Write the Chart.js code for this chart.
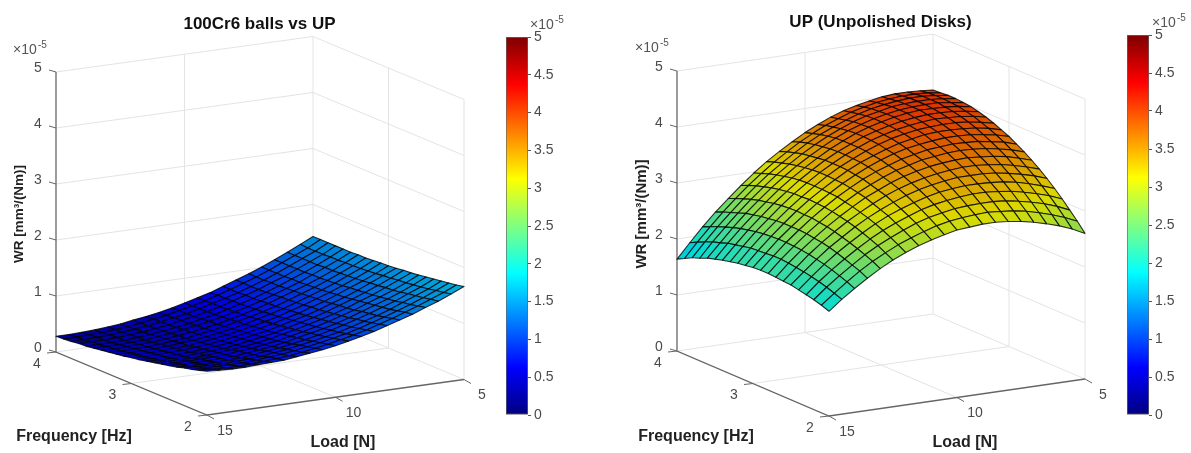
<!DOCTYPE html>
<html>
<head>
<meta charset="utf-8">
<title>Wear rate surfaces</title>
<script src="https://cdn.jsdelivr.net/npm/chart.js@4"></script>
<style>
  html, body { margin: 0; padding: 0; background: #fff; width: 1191px; height: 453px; overflow: hidden; }
  canvas { position: absolute; top: 0; filter: blur(0.45px); }
</style>
</head>
<body>
<canvas id="ballsChart" width="519" height="453" style="left:0"></canvas>
<canvas id="ballsBar" width="70" height="453" style="left:500px"></canvas>
<canvas id="disksChart" width="541" height="453" style="left:610px"></canvas>
<canvas id="disksBar" width="70" height="453" style="left:1121px"></canvas>
<script>
const loads = [15, 14.5, 14, 13.5, 13, 12.5, 12, 11.5, 11, 10.5, 10, 9.5, 9, 8.5, 8, 7.5, 7, 6.5, 6, 5.5, 5];
const freqs = [4, 3.9, 3.8, 3.7, 3.6, 3.5, 3.4, 3.3, 3.2, 3.1, 3, 2.9, 2.8, 2.7, 2.6, 2.5, 2.4, 2.3, 2.2, 2.1, 2];
const wrTicks = [0, 1, 2, 3, 4, 5];
const freqTicks = [4, 3, 2];
const loadTicks = [15, 10, 5];
const cbTicks = [0, 0.5, 1, 1.5, 2, 2.5, 3, 3.5, 4, 4.5, 5];

// WR in 1e-7 mm3/(Nm), one row per frequency, one column per load
const wrBalls = [
  [28,28,29,30,32,34,38,41,45,50,56,62,68,76,84,92,101,111,121,132,143],
  [29,29,30,31,33,35,38,42,46,51,56,62,69,76,84,92,101,111,121,131,143],
  [30,30,31,32,34,36,39,43,47,51,57,63,69,76,84,92,101,111,121,131,143],
  [32,32,32,33,35,37,40,43,48,52,57,63,70,77,84,93,101,111,121,131,143],
  [33,33,33,34,36,38,41,44,48,53,58,64,70,77,85,93,102,111,121,132,143],
  [35,35,35,36,37,40,42,46,50,54,59,65,71,78,86,94,102,112,122,132,143],
  [37,36,37,38,39,41,44,47,51,55,60,66,72,79,87,95,103,112,122,133,144],
  [39,38,39,39,41,43,45,49,52,57,62,67,73,80,88,96,104,113,123,133,144],
  [41,40,41,41,43,45,47,50,54,58,63,69,75,81,89,97,105,114,124,134,145],
  [43,43,43,43,45,46,49,52,56,60,65,70,76,83,90,98,106,115,125,135,146],
  [46,45,45,46,47,49,51,54,58,62,67,72,78,84,92,99,108,117,126,136,147],
  [48,47,47,48,49,51,53,56,60,64,68,74,80,86,93,101,109,118,128,138,148],
  [51,50,50,50,52,53,55,58,62,66,70,76,82,88,95,103,111,120,129,139,150],
  [54,53,53,53,54,56,58,61,64,68,73,78,84,90,97,104,113,121,131,141,151],
  [57,56,56,56,57,58,61,63,67,70,75,80,86,92,99,106,115,123,132,142,153],
  [60,59,59,59,60,61,63,66,69,73,78,83,88,94,101,109,117,125,134,144,155],
  [63,62,62,62,63,64,66,69,72,76,80,85,91,97,104,111,119,127,137,146,157],
  [67,66,65,65,66,67,69,72,75,79,83,88,93,99,106,113,121,130,139,148,159],
  [70,69,69,69,69,71,73,75,78,82,86,91,96,102,109,116,124,132,141,151,161],
  [74,73,72,72,73,74,76,78,81,85,89,94,99,105,112,119,127,135,144,153,163],
  [78,77,76,76,77,78,79,82,85,88,92,97,102,108,115,122,129,138,146,156,166]
];
const wrDisks = [
  [164,190,215,238,259,279,298,315,330,344,357,368,378,386,392,397,401,403,403,402,400],
  [171,197,221,244,265,285,303,320,335,349,361,372,381,389,395,400,403,405,405,404,401],
  [178,203,227,249,270,290,308,324,339,353,365,375,384,392,398,402,405,407,407,405,402],
  [183,209,232,254,275,294,312,328,343,356,368,378,387,394,399,404,406,407,407,405,402],
  [189,213,237,259,279,298,315,331,345,358,370,380,388,395,400,404,406,407,407,404,401],
  [193,218,241,262,282,301,318,333,347,360,371,381,389,395,400,404,406,406,405,403,399],
  [197,221,244,265,285,303,320,335,349,361,371,381,388,394,399,402,404,404,403,400,396],
  [200,224,247,267,287,305,321,336,349,361,371,380,387,393,397,400,402,401,400,397,392],
  [203,227,249,269,288,305,321,336,349,360,370,379,386,391,395,397,398,398,396,392,387],
  [205,228,250,270,289,306,321,335,348,359,368,376,383,388,392,394,394,393,391,387,381],
  [207,229,251,270,288,305,320,334,346,357,366,374,380,384,387,389,389,388,385,381,375],
  [208,230,251,270,288,304,319,332,344,354,362,370,375,380,382,384,383,382,378,374,367],
  [208,230,250,269,286,302,316,329,340,350,359,365,371,374,377,378,377,375,371,366,359],
  [207,229,249,267,284,299,313,326,336,346,354,360,365,368,370,371,369,367,363,357,350],
  [206,227,247,265,281,296,309,321,332,341,348,354,358,361,363,363,361,358,353,347,340],
  [205,225,244,262,277,292,305,316,326,335,342,347,351,354,354,354,352,348,343,337,329],
  [202,222,241,258,273,287,300,311,320,328,335,340,343,345,345,344,342,338,332,325,317],
  [199,219,237,253,268,282,294,304,313,321,327,331,334,336,336,334,331,326,320,313,304],
  [196,215,232,248,263,276,287,297,306,313,318,322,324,325,325,323,319,314,308,300,290],
  [192,210,227,243,257,269,280,289,297,304,309,312,314,315,313,311,307,301,294,286,276],
  [187,205,221,236,250,262,272,281,288,294,299,301,303,303,301,298,293,287,280,271,260]
];

Chart.defaults.font.family = '"Liberation Sans", Arial, sans-serif';

const gridColor = "#e3e3e3";
const axisColor = "#666666";
const textColor = "#4a4a4a";
const labelColor = "#222222";

// matlab style jet colormap, v goes 0..1
function jet(v) {
  const c = (x) => Math.round(255 * Math.max(0, Math.min(1, x)));
  const r = c(Math.min(4 * v - 1.5, 4.5 - 4 * v));
  const g = c(Math.min(4 * v - 0.5, 3.5 - 4 * v));
  const b = c(Math.min(4 * v + 0.5, 2.5 - 4 * v));
  return "rgb(" + r + "," + g + "," + b + ")";
}

function drawExponent(ctx, x, y) {
  ctx.save();
  ctx.fillStyle = "#555555";
  ctx.textAlign = "left";
  ctx.textBaseline = "middle";
  ctx.font = '14px "Liberation Sans"';
  ctx.fillText("×10", x, y);
  ctx.font = '10px "Liberation Sans"';
  ctx.fillText("-5", x + 25, y - 5);
  ctx.restore();
}

function surfaceChart(id, view, values, title) {
  // load goes along t, frequency along s, both 0..1
  const project = (load, freq, wr) => {
    const t = (15 - load) / 10;
    const s = (4 - freq) / 2;
    return {
      x: view.ox + view.tx * t + view.sx * s,
      y: view.oy + view.ty * t + view.sy * s - view.zy * wr,
    };
  };
  const gap = { x: null, y: null };

  const gridLines = [];
  wrTicks.forEach((z) => {
    gridLines.push(project(15, 4, z), project(5, 4, z), project(5, 2, z), gap);
  });
  gridLines.push(project(10, 4, 0), project(10, 4, 5), gap);
  gridLines.push(project(5, 4, 0), project(5, 4, 5), gap);
  gridLines.push(project(5, 3, 0), project(5, 3, 5), gap);
  gridLines.push(project(5, 2, 0), project(5, 2, 5), gap);
  gridLines.push(project(10, 4, 0), project(10, 2, 0), gap);
  gridLines.push(project(15, 3, 0), project(5, 3, 0), gap);

  const axisLines = [
    project(15, 4, 5), project(15, 4, 0), project(15, 2, 0), project(5, 2, 0),
  ];

  const tickLines = [];
  wrTicks.forEach((z) => {
    const p = project(15, 4, z);
    tickLines.push(p, { x: p.x - 7, y: p.y - 2 }, gap);
  });
  freqTicks.forEach((f) => {
    const p = project(15, f, 0);
    tickLines.push(p, { x: p.x - 9, y: p.y + 1 }, gap);
  });
  loadTicks.forEach((l) => {
    const p = project(l, 2, 0);
    tickLines.push(p, { x: p.x + 7, y: p.y + 4 }, gap);
  });

  const surfacePoints = [];
  freqs.forEach((f, j) => {
    loads.forEach((l, i) => {
      surfacePoints.push(project(l, f, values[j][i] / 100));
    });
  });

  const surfacePlugin = {
    id: "surface",
    afterDatasetsDraw(chart) {
      const ctx = chart.ctx;
      const pts = chart.getDatasetMeta(3).data;
      const nL = loads.length;
      ctx.save();
      ctx.lineJoin = "round";
      ctx.lineWidth = 1.1;
      ctx.strokeStyle = "rgba(0,0,0,0.8)";
      // back to front: far corner is lowest load, highest frequency
      for (let j = 0; j < freqs.length - 1; j++) {
        for (let i = nL - 2; i >= 0; i--) {
          const a = pts[j * nL + i];
          const b = pts[j * nL + i + 1];
          const c = pts[(j + 1) * nL + i + 1];
          const d = pts[(j + 1) * nL + i];
          const mean = (values[j][i] + values[j][i + 1] + values[j + 1][i + 1] + values[j + 1][i]) / 4;
          ctx.beginPath();
          ctx.moveTo(a.x, a.y);
          ctx.lineTo(b.x, b.y);
          ctx.lineTo(c.x, c.y);
          ctx.lineTo(d.x, d.y);
          ctx.closePath();
          ctx.fillStyle = jet(mean / 500);
          ctx.fill();
          // reference mesh is denser and reads darker overall
          ctx.fillStyle = "rgba(0,0,0,0.14)";
          ctx.fill();
          ctx.stroke();
        }
      }
      ctx.restore();
    },
    afterDraw(chart) {
      const ctx = chart.ctx;
      const sx = chart.scales.x;
      const sy = chart.scales.y;
      const put = (text, x, y, dx, dy) => {
        ctx.fillText(text, sx.getPixelForValue(x) + dx, sy.getPixelForValue(y) + dy);
      };
      const putAt = (text, p, dx, dy) => put(text, p.x, p.y, dx, dy);
      ctx.save();
      ctx.textAlign = "center";
      ctx.textBaseline = "middle";
      ctx.fillStyle = textColor;
      ctx.font = '14px "Liberation Sans"';
      wrTicks.forEach((z) => putAt(String(z), project(15, 4, z), -18, -4));
      freqTicks.forEach((f) => putAt(String(f), project(15, f, 0), -19, 12));
      loadTicks.forEach((l) => putAt(String(l), project(l, 2, 0), 18, 16));

      ctx.fillStyle = labelColor;
      ctx.font = 'bold 16px "Liberation Sans"';
      put("Frequency [Hz]", view.freqLabel[0], view.freqLabel[1], 0, 0);
      put("Load [N]", view.loadLabel[0], view.loadLabel[1], 0, 0);
      ctx.translate(sx.getPixelForValue(view.wrLabel[0]), sy.getPixelForValue(view.wrLabel[1]));
      ctx.rotate(-Math.PI / 2);
      ctx.font = "bold " + view.wrSize + 'px "Liberation Sans"';
      ctx.fillText("WR [mm³/(Nm)]", 0, 0);
      ctx.restore();
      drawExponent(ctx, sx.getPixelForValue(view.expo[0]), sy.getPixelForValue(view.expo[1]));
    },
  };

  const canvas = document.getElementById(id);
  const left = parseInt(canvas.style.left) || 0;
  return new Chart(canvas, {
    type: "scatter",
    data: {
      datasets: [
        { data: gridLines, showLine: true, borderColor: gridColor, borderWidth: 1, pointRadius: 0, order: 3 },
        { data: axisLines, showLine: true, borderColor: axisColor, borderWidth: 1.3, pointRadius: 0, order: 2 },
        { data: tickLines, showLine: true, borderColor: axisColor, borderWidth: 1, pointRadius: 0, order: 1 },
        { data: surfacePoints, showLine: false, pointRadius: 0, order: 0 },
      ],
    },
    options: {
      responsive: false,
      animation: false,
      events: [],
      layout: { padding: 0 },
      scales: {
        x: { type: "linear", display: false, min: left, max: left + canvas.width },
        y: { type: "linear", display: false, reverse: true, min: view.titleTop + 20.4, max: 453 },
      },
      plugins: {
        legend: { display: false },
        tooltip: { enabled: false },
        title: {
          display: true,
          text: title,
          color: "#111111",
          font: { size: 17, weight: "bold" },
          padding: { top: view.titleTop, bottom: 0 },
        },
      },
    },
    plugins: [surfacePlugin],
  });
}

function colorBar(id, top, expoX, expoY) {
  const canvas = document.getElementById(id);
  new Chart(canvas, {
    type: "bar",
    data: {
      labels: ["WR"],
      datasets: [
        {
          data: [5],
          barPercentage: 1,
          categoryPercentage: 1,
          borderColor: "#666666",
          borderWidth: 1,
          borderSkipped: false,
          backgroundColor: (c) => {
            const area = c.chart.chartArea;
            if (!area) return "#000";
            const grad = c.chart.ctx.createLinearGradient(0, area.bottom, 0, area.top);
            for (let i = 0; i <= 64; i++) grad.addColorStop(i / 64, jet(i / 64));
            return grad;
          },
        },
      ],
    },
    options: {
      responsive: false,
      animation: false,
      events: [],
      layout: { padding: { left: 6, top: top, bottom: 38, right: 0 } },
      scales: {
        x: { display: false },
        y: {
          position: "right",
          min: 0,
          max: 5,
          afterBuildTicks: (scale) => {
            scale.ticks = cbTicks.map((value) => ({ value }));
          },
          afterFit: (scale) => {
            scale.width = 42;
          },
          border: { display: false },
          grid: { drawOnChartArea: false, tickLength: 3, color: "#555555" },
          ticks: {
            autoSkip: false,
            color: textColor,
            padding: 3,
            font: { size: 14 },
            callback: (v) => String(v),
          },
        },
      },
      plugins: { legend: { display: false }, tooltip: { enabled: false } },
    },
    plugins: [
      {
        id: "barExponent",
        afterDraw(chart) {
          drawExponent(chart.ctx, expoX, expoY);
        },
      },
    ],
  });
}

surfaceChart("ballsChart", {
  ox: 56, oy: 352, tx: 257, ty: -35.5, sx: 151, sy: 63, zy: 56,
  titleTop: 14, freqLabel: [74, 437], loadLabel: [343, 443], wrLabel: [19, 214], wrSize: 13.5, expo: [13, 50],
}, wrBalls, "100Cr6 balls vs UP");

surfaceChart("disksChart", {
  ox: 677, oy: 351, tx: 256, ty: -37, sx: 152, sy: 65, zy: 56,
  titleTop: 12, freqLabel: [696, 437], loadLabel: [965, 443], wrLabel: [642, 214], wrSize: 15, expo: [635, 48],
}, wrDisks, "UP (Unpolished Disks)");

colorBar("ballsBar", 37, 30, 25);
colorBar("disksBar", 35, 31, 23);
</script>
</body>
</html>
